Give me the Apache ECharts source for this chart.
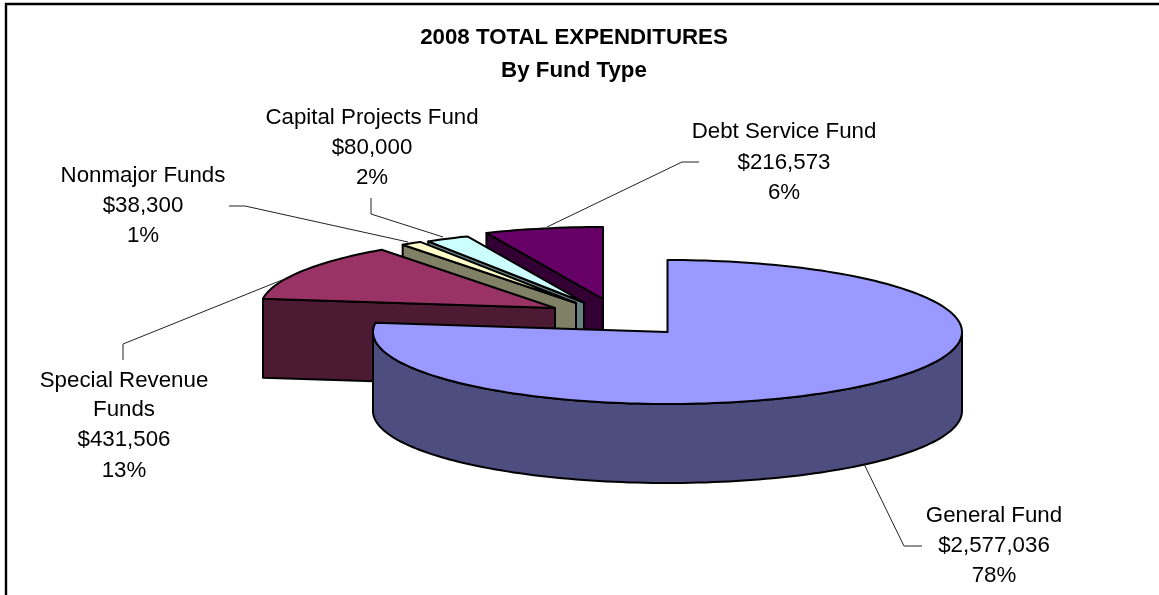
<!DOCTYPE html>
<html>
<head>
<meta charset="utf-8">
<style>html,body{margin:0;padding:0;background:#fff}#c{width:1159px;height:595px}</style>
<script src="https://cdn.jsdelivr.net/npm/echarts@6/dist/echarts.min.js"></script>
</head>
<body>
<div id="c"></div>
<script>
// ---- data ----
const categories = ["General Fund", "Special Revenue Funds", "Nonmajor Funds", "Capital Projects Fund", "Debt Service Fund"];
const amounts = [2577036, 431506, 38300, 80000, 216573];
const percentLabels = ["78%", "13%", "1%", "2%", "6%"];
const titleLines = ["2008 TOTAL EXPENDITURES", "By Fund Type"];

// ---- styles and layout ----
const topColors = ["#9999FF", "#993366", "#FFFFCC", "#CCFFFF", "#660066"];
const wallColors = ["#4D4D80", "#4D1A33", "#808066", "#668080", "#330033"];
const explodeOffsets = [[0, 0], [-112.5, -24], [-91.5, -29], [-83.5, -29.5], [-64.5, -33]];
const pie = { cx: 667.5, cy: 332, rx: 294.5, ry: 72, depth: 79 };
const labelLayout = [
  { x: 994, y: [515.5, 545.5, 575.5], leader: [[864, 464], [904, 546], [922, 546]] },
  { x: 124, y: [380.5, 410, 440, 470.5], lines: ["Special Revenue", "Funds"], leader: [[123, 360], [123, 344], [287, 278]] },
  { x: 143, y: [176, 206, 236], leader: [[229, 206], [245, 206], [408, 242]] },
  { x: 372, y: [117.5, 147.5, 177.5], leader: [[371, 198], [371, 214], [443, 237]] },
  { x: 784, y: [132, 163, 193], leader: [[699, 162], [682, 162], [547, 227]] }
];
const FONT = '"Liberation Sans", Arial, sans-serif';

const total = amounts.reduce((a, b) => a + b, 0);
const startAngles = [];
amounts.reduce((acc, v, i) => { startAngles[i] = acc; return acc + v / total * 360; }, 0);

function pt(idx, deg) {
  const a = deg * Math.PI / 180, o = explodeOffsets[idx];
  return [pie.cx + o[0] + pie.rx * Math.sin(a), pie.cy + o[1] - pie.ry * Math.cos(a)];
}
function arc(idx, a0, a1) {
  const n = Math.max(2, Math.ceil(Math.abs(a1 - a0) / 1.5)), out = [];
  for (let k = 0; k <= n; k++) out.push(pt(idx, a0 + (a1 - a0) * k / n));
  return out;
}
const drop = p => [p[0], p[1] + pie.depth];
const stroke = { stroke: "#000", lineWidth: 2, lineJoin: "round" };

function renderSlice(params, api) {
  const idx = api.value(0), value = api.value(1);
  const a0 = startAngles[idx], a1 = a0 + value / total * 360;
  const o = explodeOffsets[idx];
  const apex = [pie.cx + o[0], pie.cy + o[1]];
  const children = [];
  const face = (p, fill) => children.push({ type: "polygon", shape: { points: p }, style: Object.assign({ fill }, stroke) });
  // radial faces turned toward the viewer
  if (Math.sin(a0 * Math.PI / 180) < -1e-6) {
    const e = pt(idx, a0);
    face([e, apex, drop(apex), drop(e)], wallColors[idx]);
  }
  if (Math.sin(a1 * Math.PI / 180) > 1e-6) {
    const e = pt(idx, a1);
    face([e, apex, drop(apex), drop(e)], wallColors[idx]);
  }
  // outer wall, front half only
  const w0 = Math.max(a0, 90), w1 = Math.min(a1, 270);
  if (w1 > w0) {
    const top = arc(idx, w0, w1);
    face(top.concat(top.slice().reverse().map(drop)), wallColors[idx]);
  }
  // top surface
  face([apex].concat(arc(idx, a0, a1)), topColors[idx]);
  return { type: "group", children };
}

const seriesData = amounts.map((v, i) => [i, v]).reverse();

const graphics = [
  { type: "polyline", silent: true, shape: { points: [[6, 595], [6, 4], [1159, 4]] }, style: { stroke: "#000", lineWidth: 2.4, fill: null } }
];
categories.forEach((name, i) => {
  const L = labelLayout[i];
  const money = "$" + amounts[i].toLocaleString("en-US");
  const lines = (L.lines || [name]).concat([money, percentLabels[i]]);
  lines.forEach((t, k) => graphics.push({
    type: "text", silent: true, x: L.x, y: L.y[k],
    style: { text: t, font: "22.3px " + FONT, fill: "#000", textAlign: "center", textVerticalAlign: "middle" }
  }));
  graphics.push({ type: "polyline", silent: true, z: 5, shape: { points: L.leader }, style: { stroke: "#222", lineWidth: 1, fill: null } });
});
titleLines.forEach((t, k) => graphics.push({
  type: "text", silent: true, x: 574, y: 38 + k * 33,
  style: { text: t, font: "bold 22.3px " + FONT, fill: "#000", textAlign: "center", textVerticalAlign: "middle" }
}));

const chart = echarts.init(document.getElementById("c"), null, { renderer: "canvas" });
chart.setOption({
  animation: false,
  backgroundColor: "#fff",
  graphic: graphics,
  series: [{
    type: "custom",
    coordinateSystem: "none",
    silent: true,
    renderItem: renderSlice,
    encode: { value: 1 },
    data: seriesData
  }]
});
</script>
</body>
</html>
